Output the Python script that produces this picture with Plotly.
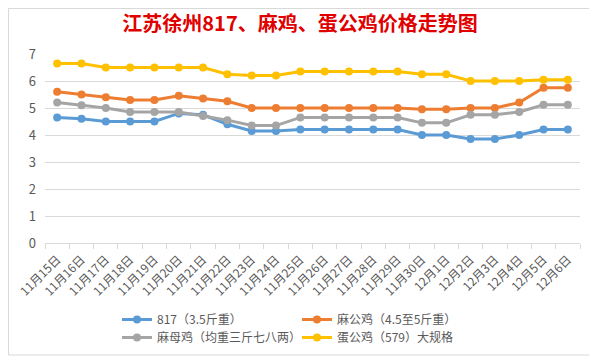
import plotly.graph_objects as go

dates = ["11月15日", "11月16日", "11月17日", "11月18日", "11月19日", "11月20日", "11月21日",
         "11月22日", "11月23日", "11月24日", "11月25日", "11月26日", "11月27日", "11月28日",
         "11月29日", "11月30日", "12月1日", "12月2日", "12月3日", "12月4日", "12月5日", "12月6日"]

s817 = [4.65, 4.6, 4.5, 4.5, 4.5, 4.8, 4.75, 4.4, 4.15, 4.15, 4.2, 4.2, 4.2, 4.2, 4.2,
        4.0, 4.0, 3.85, 3.85, 4.0, 4.2, 4.2]
ma_gong = [5.6, 5.5, 5.4, 5.3, 5.3, 5.45, 5.35, 5.25, 5.0, 5.0, 5.0, 5.0, 5.0, 5.0, 5.0,
           4.95, 4.95, 5.0, 5.0, 5.2, 5.75, 5.75]
ma_mu = [5.2, 5.1, 5.0, 4.85, 4.85, 4.85, 4.7, 4.55, 4.35, 4.35, 4.65, 4.65, 4.65, 4.65, 4.65,
         4.45, 4.45, 4.75, 4.75, 4.85, 5.12, 5.12]
dan_gong = [6.65, 6.65, 6.5, 6.5, 6.5, 6.5, 6.5, 6.25, 6.2, 6.2, 6.35, 6.35, 6.35, 6.35, 6.35,
            6.25, 6.25, 6.0, 6.0, 6.0, 6.05, 6.05]

names = ["817（3.5斤重）", "麻公鸡（4.5至5斤重）", "麻母鸡（均重三斤七八两）", "蛋公鸡（579）大规格"]
series = [s817, ma_gong, ma_mu, dan_gong]
colors = ["#5B9BD5", "#ED7D31", "#A5A5A5", "#FFC000"]
legends = ["legend", "legend", "legend2", "legend2"]

font_family = "Noto Sans CJK SC, Noto Sans, sans-serif"

fig = go.Figure()
for name, vals, col, lg in zip(names, series, colors, legends):
    fig.add_trace(go.Scatter(
        x=dates, y=vals, name=name, mode="lines+markers",
        line=dict(color=col, width=3),
        marker=dict(color=col, size=8),
        legend=lg,
    ))

# page body has an 8px default margin; the figure is drawn from (8, 8)
OFF = 8
W, H = 597 - OFF, 363 - OFF
ml, mr, mt, mb = 45 - OFF, 17, 54 - OFF, 120
pw = W - ml - mr
ph = H - mt - mb


def cx(p):  # screen px -> container fraction
    return (p - OFF) / W


def cy(p):
    return 1 - (p - OFF) / H


def px_x(p):
    return (p - OFF - ml) / pw


def px_y(p):
    return (H - mb - (p - OFF)) / ph


legend_common = dict(
    orientation="h", xanchor="left", yanchor="top",
    xref="container", yref="container",
    font=dict(family=font_family, size=12, color="#595959"),
    entrywidth=135, entrywidthmode="pixels",
    bgcolor="rgba(0,0,0,0)", tracegroupgap=0,
)

fig.update_layout(
    width=W, height=H,
    margin=dict(l=ml, r=mr, t=mt, b=mb, autoexpand=False),
    paper_bgcolor="white", plot_bgcolor="white",
    title=dict(
        text="<b>江苏徐州817、麻鸡、蛋公鸡价格走势图</b>",
        x=cx(300), xref="container", xanchor="center",
        y=cy(24), yref="container", yanchor="middle",
        font=dict(family=font_family, size=20, color="#E00000"),
    ),
    font=dict(family=font_family, color="#595959"),
    legend=dict(x=cx(117), y=cy(305), **legend_common),
    legend2=dict(x=cx(117), y=cy(323), **legend_common),
    showlegend=True,
    xaxis=dict(
        type="category", showgrid=False, automargin=False,
        showline=True, linecolor="#D9D9D9", linewidth=1,
        ticks="outside", tickson="boundaries", ticklen=5, tickcolor="#D9D9D9",
        tickangle=-45, tickfont=dict(size=12, color="#595959"),
        ticklabelstandoff=4,
        range=[-0.5, len(dates) - 0.5],
    ),
    yaxis=dict(
        range=[0, 7], dtick=1, tick0=0, automargin=False,
        showgrid=True, gridcolor="#D9D9D9", gridwidth=1,
        zeroline=False, showline=False,
        tickfont=dict(size=13, color="#595959"),
        ticks="", ticklabelstandoff=8,
    ),
    shapes=[dict(
        type="rect", xref="paper", yref="paper",
        x0=px_x(8.5), x1=px_x(593), y0=px_y(355), y1=px_y(8.5),
        line=dict(color="#D9D9D9", width=1), fillcolor="rgba(0,0,0,0)", layer="below",
    )],
)

fig.write_html("out.html")
